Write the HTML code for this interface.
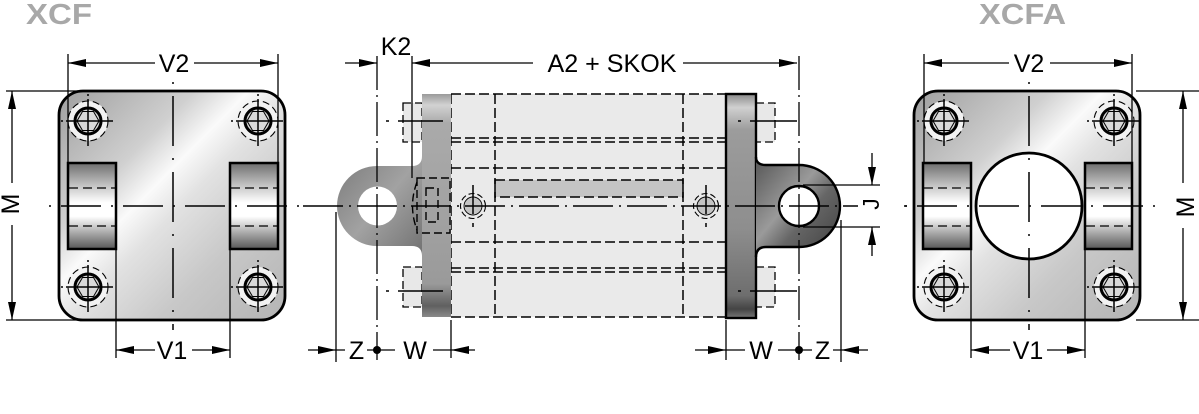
<!DOCTYPE html>
<html><head><meta charset="utf-8"><style>
html,body{margin:0;padding:0;background:#fff;}
svg{display:block;}
text{font-family:"Liberation Sans",Arial,sans-serif;}
</style></head><body>
<svg width="1199" height="414" viewBox="0 0 1199 414" xmlns="http://www.w3.org/2000/svg">
<defs>
<linearGradient id="metal" x1="0" y1="0" x2="1" y2="1">
<stop offset="0" stop-color="#9e9e9e"/><stop offset="0.3" stop-color="#d0d0d0"/><stop offset="0.42" stop-color="#fafafa"/><stop offset="0.52" stop-color="#e2e2e2"/><stop offset="0.72" stop-color="#c8c8c8"/><stop offset="1" stop-color="#b4b4b4"/>
</linearGradient>
<linearGradient id="slot" x1="0" y1="0" x2="0" y2="1">
<stop offset="0" stop-color="#6e6e6e"/><stop offset="0.3" stop-color="#d0d0d0"/><stop offset="0.46" stop-color="#fff"/><stop offset="0.62" stop-color="#fff"/><stop offset="0.78" stop-color="#b8b8b8"/><stop offset="1" stop-color="#575757"/>
</linearGradient>
<linearGradient id="flL" x1="0" y1="0" x2="0" y2="1">
<stop offset="0" stop-color="#9a9a9a"/><stop offset="0.05" stop-color="#d2d2d2"/><stop offset="0.13" stop-color="#aaa"/><stop offset="0.5" stop-color="#a3a3a3"/><stop offset="0.85" stop-color="#9a9a9a"/><stop offset="0.95" stop-color="#606060"/><stop offset="1" stop-color="#8a8a8a"/>
</linearGradient>
<linearGradient id="flR" x1="0" y1="0" x2="0" y2="1">
<stop offset="0" stop-color="#8a8a8a"/><stop offset="0.06" stop-color="#d0d0d0"/><stop offset="0.16" stop-color="#9c9c9c"/><stop offset="0.6" stop-color="#8e8e8e"/><stop offset="0.9" stop-color="#6e6e6e"/><stop offset="0.96" stop-color="#444"/><stop offset="1" stop-color="#777"/>
</linearGradient>
<linearGradient id="clL" x1="0" y1="0" x2="1" y2="1">
<stop offset="0" stop-color="#7a7a7a"/><stop offset="0.5" stop-color="#a2a2a2"/><stop offset="1" stop-color="#717171"/>
</linearGradient>
<linearGradient id="clR" x1="0" y1="0" x2="1" y2="1">
<stop offset="0" stop-color="#555"/><stop offset="0.42" stop-color="#9a9a9a"/><stop offset="0.6" stop-color="#666"/><stop offset="1" stop-color="#3e3e3e"/>
</linearGradient>
<g id="bolt">
<circle r="20" fill="#f2f2f2"/>
<circle r="20" fill="none" stroke="#000" stroke-width="1.1" stroke-dasharray="7 4"/>
<circle r="13" fill="#d9d9d9" stroke="#000" stroke-width="3"/>
<polygon points="11,0 5.5,9.5 -5.5,9.5 -11,0 -5.5,-9.5 5.5,-9.5" fill="none" stroke="#000" stroke-width="1"/>
<line x1="-22" y1="0" x2="25" y2="0" stroke="#000" stroke-width="1.5"/>
<line x1="0" y1="-22" x2="0" y2="25" stroke="#000" stroke-width="1.5"/>
<line x1="-27" y1="0" x2="-25" y2="0" stroke="#000" stroke-width="1.5"/>
<line x1="0" y1="-27" x2="0" y2="-25" stroke="#000" stroke-width="1.5"/>
</g>
<g id="pivot">
<circle r="9" fill="#c4c4c4" stroke="#000" stroke-width="0.9"/>
<circle r="12.5" fill="none" stroke="#000" stroke-width="1.1" stroke-dasharray="6 3"/>
<line x1="0" y1="-21" x2="0" y2="8" stroke="#000" stroke-width="1.5"/>
<line x1="0" y1="17" x2="0" y2="21" stroke="#000" stroke-width="1.5"/>
</g>
</defs>

<text x="26" y="24" font-size="29" font-weight="bold" fill="#a8a8a8" textLength="66" lengthAdjust="spacingAndGlyphs">XCF</text>
<text x="979" y="24" font-size="29" font-weight="bold" fill="#a8a8a8" textLength="87" lengthAdjust="spacingAndGlyphs">XCFA</text>

<!-- LEFT PLATE -->
<rect x="59" y="91" width="226" height="229" rx="24" fill="url(#metal)" stroke="#000" stroke-width="2.8"/>
<rect x="68" y="163" width="48" height="86" fill="url(#slot)" stroke="#000" stroke-width="2.5"/>
<rect x="230" y="163" width="48" height="86" fill="url(#slot)" stroke="#000" stroke-width="2.5"/>
<g stroke="#000" stroke-width="1.3" stroke-dasharray="9 5">
<line x1="69" y1="188" x2="115" y2="188"/><line x1="69" y1="226" x2="115" y2="226"/>
<line x1="231" y1="188" x2="277" y2="188"/><line x1="231" y1="226" x2="277" y2="226"/>
</g>
<use href="#bolt" x="88" y="121"/><use href="#bolt" x="258" y="121"/>
<use href="#bolt" x="88" y="287"/><use href="#bolt" x="258" y="287"/>
<g stroke="#000" stroke-width="1.5" fill="none">
<line x1="173" y1="82" x2="173" y2="330" stroke-dasharray="2 12 50 12"/>
<line x1="49" y1="206" x2="300" y2="206" stroke-dasharray="2 10 40 10"/>
</g>
<g stroke="#000" stroke-width="1.3">
<line x1="68" y1="54" x2="68" y2="163"/><line x1="278" y1="54" x2="278" y2="163"/>
<line x1="68" y1="63" x2="155" y2="63"/><line x1="194" y1="63" x2="278" y2="63"/>
<line x1="6" y1="91" x2="78" y2="91"/><line x1="6" y1="320" x2="78" y2="320"/>
<line x1="12" y1="91" x2="12" y2="183"/><line x1="12" y1="225" x2="12" y2="320"/>
<line x1="116" y1="249" x2="116" y2="358"/><line x1="230" y1="249" x2="230" y2="358"/>
<line x1="116" y1="350" x2="155" y2="350"/><line x1="192" y1="350" x2="230" y2="350"/>
</g>
<g fill="#000">
<polygon points="68,63 86,59 86,67"/><polygon points="278,63 260,59 260,67"/>
<polygon points="12,91 8,109 16,109"/><polygon points="12,320 8,302 16,302"/>
<polygon points="116,350 134,346 134,354"/><polygon points="230,350 212,346 212,354"/>
</g>
<text x="174" y="72" font-size="25" text-anchor="middle">V2</text>
<text x="172" y="359" font-size="25" text-anchor="middle">V1</text>
<text transform="translate(10,204) rotate(-90)" y="9" font-size="25" text-anchor="middle">M</text>

<!-- RIGHT PLATE -->
<rect x="914" y="91" width="226" height="229" rx="24" fill="url(#metal)" stroke="#000" stroke-width="2.8"/>
<rect x="923" y="163" width="48" height="86" fill="url(#slot)" stroke="#000" stroke-width="2.5"/>
<rect x="1085" y="163" width="47" height="86" fill="url(#slot)" stroke="#000" stroke-width="2.5"/>
<g stroke="#000" stroke-width="1.3" stroke-dasharray="9 5">
<line x1="924" y1="188" x2="970" y2="188"/><line x1="924" y1="226" x2="970" y2="226"/>
<line x1="1086" y1="188" x2="1131" y2="188"/><line x1="1086" y1="226" x2="1131" y2="226"/>
</g>
<circle cx="1029" cy="206" r="53" fill="#fff" stroke="#000" stroke-width="2.8"/>
<use href="#bolt" x="944" y="121"/><use href="#bolt" x="1114" y="121"/>
<use href="#bolt" x="944" y="287"/><use href="#bolt" x="1114" y="287"/>
<g stroke="#000" stroke-width="1.5" fill="none">
<line x1="1029" y1="82" x2="1029" y2="330" stroke-dasharray="2 12 50 12"/>
<line x1="905" y1="206" x2="1155" y2="206" stroke-dasharray="2 10 40 10"/>
</g>
<g stroke="#000" stroke-width="1.3">
<line x1="924" y1="54" x2="924" y2="163"/><line x1="1132" y1="54" x2="1132" y2="163"/>
<line x1="924" y1="63" x2="1009" y2="63"/><line x1="1050" y1="63" x2="1132" y2="63"/>
<line x1="1136" y1="91" x2="1199" y2="91"/><line x1="1136" y1="320" x2="1199" y2="320"/>
<line x1="1183" y1="91" x2="1183" y2="183"/><line x1="1183" y1="228" x2="1183" y2="320"/>
<line x1="971" y1="249" x2="971" y2="358"/><line x1="1085" y1="249" x2="1085" y2="358"/>
<line x1="971" y1="350" x2="1010" y2="350"/><line x1="1047" y1="350" x2="1085" y2="350"/>
</g>
<g fill="#000">
<polygon points="924,63 942,59 942,67"/><polygon points="1132,63 1114,59 1114,67"/>
<polygon points="1183,91 1179,109 1187,109"/><polygon points="1183,320 1179,302 1187,302"/>
<polygon points="971,350 989,346 989,354"/><polygon points="1085,350 1067,346 1067,354"/>
</g>
<text x="1029" y="72" font-size="25" text-anchor="middle">V2</text>
<text x="1028" y="359" font-size="25" text-anchor="middle">V1</text>
<text transform="translate(1185,207) rotate(-90)" y="9" font-size="25" text-anchor="middle">M</text>

<!-- MIDDLE SIDE VIEW -->
<rect x="451" y="94" width="275" height="223" fill="#eaeaea"/>
<rect x="495" y="180" width="188" height="17" fill="#c4c4c4"/>
<g stroke="#000" stroke-width="1.5" stroke-dasharray="10 4" fill="none">
<line x1="451" y1="94" x2="726" y2="94"/><line x1="451" y1="317" x2="726" y2="317"/>
<line x1="451" y1="94" x2="451" y2="317"/>
<line x1="451" y1="138" x2="726" y2="138"/><line x1="451" y1="142" x2="726" y2="142"/>
<line x1="451" y1="168" x2="726" y2="168"/><line x1="451" y1="242" x2="726" y2="242"/>
<line x1="451" y1="268" x2="726" y2="268"/><line x1="451" y1="272" x2="726" y2="272"/>
<line x1="495" y1="94" x2="495" y2="317"/><line x1="683" y1="94" x2="683" y2="317"/>
<rect x="495" y="180" width="188" height="17"/>
</g>
<g fill="#e8e8e8" stroke="#000" stroke-width="1.3" stroke-dasharray="8 4">
<rect x="403" y="103" width="19" height="39"/><rect x="403" y="267" width="19" height="40"/>
<rect x="756" y="103" width="19" height="39"/><rect x="756" y="267" width="19" height="40"/>
</g>
<rect x="422" y="94" width="29" height="223" fill="url(#flL)"/>
<rect x="726" y="94" width="30" height="224" fill="url(#flR)" stroke="#000" stroke-width="2.4"/>
<path d="M422,156 Q422,166 412,166 L377,166 A40,40 0 0 0 377,246 L412,246 Q422,246 422,256 Z" fill="url(#clL)"/>
<circle cx="377.5" cy="206" r="19.5" fill="#fff"/>
<path d="M756,157 Q756,165 766,165 L799,165 A41,41 0 0 1 799,247 L766,247 Q756,247 756,257" fill="url(#clR)" stroke="#000" stroke-width="2.4"/>
<circle cx="799" cy="206" r="20" fill="#fff" stroke="#000" stroke-width="2.4"/>
<g stroke="#000" stroke-width="1.4" stroke-dasharray="8 4" fill="none">
<rect x="417" y="178" width="33" height="55"/>
<path d="M417,182 Q408,206 417,230"/>
<rect x="426" y="188" width="12" height="34"/>
</g>
<use href="#pivot" x="473" y="206"/>
<use href="#pivot" x="706" y="206"/>
<g stroke="#000" stroke-width="1.5">
<line x1="398" y1="121" x2="443" y2="121"/><line x1="386" y1="121" x2="389" y2="121"/>
<line x1="398" y1="291" x2="443" y2="291"/><line x1="386" y1="291" x2="389" y2="291"/>
<line x1="750" y1="121" x2="797" y2="121"/><line x1="738" y1="121" x2="741" y2="121"/>
<line x1="750" y1="291" x2="797" y2="291"/><line x1="738" y1="291" x2="741" y2="291"/>
</g>
<line x1="303" y1="206" x2="858" y2="206" stroke="#000" stroke-width="1.5" stroke-dasharray="40 6 2 6"/>
<g stroke="#000" stroke-width="1.3" fill="none">
<line x1="377" y1="56" x2="377" y2="360" stroke-dasharray="34 5 2 5"/>
<line x1="799" y1="56" x2="799" y2="360" stroke-dasharray="34 5 2 5"/>
<line x1="412" y1="56" x2="412" y2="178"/>
<line x1="336" y1="212" x2="336" y2="362"/>
<line x1="451" y1="320" x2="451" y2="358"/>
<line x1="726" y1="320" x2="726" y2="360"/>
<line x1="841" y1="220" x2="841" y2="362"/>
<line x1="345" y1="63" x2="377" y2="63"/>
<line x1="412" y1="63" x2="533" y2="63"/>
<line x1="683" y1="63" x2="797" y2="63"/>
<line x1="308" y1="350" x2="345" y2="350"/>
<line x1="367" y1="350" x2="395" y2="350"/>
<line x1="433" y1="350" x2="475" y2="350"/>
<line x1="695" y1="350" x2="745" y2="350"/>
<line x1="778" y1="350" x2="812" y2="350"/>
<line x1="833" y1="350" x2="868" y2="350"/>
<line x1="803" y1="185" x2="880" y2="185"/>
<line x1="803" y1="227" x2="880" y2="227"/>
<line x1="872" y1="153" x2="872" y2="185"/>
<line x1="872" y1="227" x2="872" y2="256"/>
</g>
<line x1="904" y1="206" x2="907" y2="206" stroke="#000" stroke-width="1.5"/>
<g fill="#000">
<polygon points="377,63 359,59 359,67"/>
<polygon points="412,63 430,59 430,67"/>
<polygon points="797,63 779,59 779,67"/>
<polygon points="336,350 318,346 318,354"/>
<polygon points="451,350 469,346 469,354"/>
<polygon points="726,350 708,346 708,354"/>
<polygon points="841,350 859,346 859,354"/>
<polygon points="872,185 868,167 876,167"/>
<polygon points="872,227 868,245 876,245"/>
<circle cx="377" cy="350" r="4"/>
<circle cx="799" cy="350" r="4"/>
</g>
<text x="396" y="55" font-size="25" text-anchor="middle">K2</text>
<text x="612" y="72" font-size="25" text-anchor="middle" textLength="129" lengthAdjust="spacingAndGlyphs">A2 + SKOK</text>
<text x="356.5" y="359" font-size="25" text-anchor="middle">Z</text>
<text x="415" y="359" font-size="25" text-anchor="middle">W</text>
<text x="761" y="359" font-size="25" text-anchor="middle">W</text>
<text x="822.5" y="359" font-size="25" text-anchor="middle">Z</text>
<text transform="translate(871,204) rotate(-90)" y="8" font-size="23" text-anchor="middle">J</text>
</svg>
</body></html>
